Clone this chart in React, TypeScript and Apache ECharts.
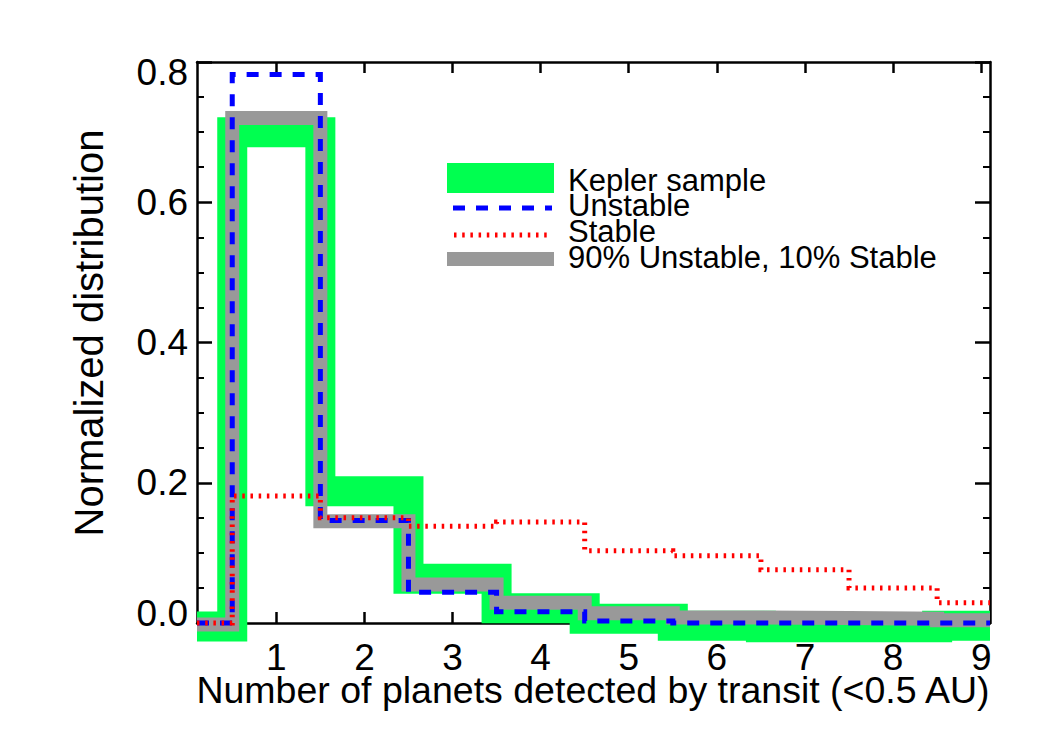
import React, { useEffect, useRef } from "react";
import * as echarts from "echarts";

// Bin layout: one bin per planet count, plotted over [X_MIN, X_MAX]
const X_MIN = 0.1;
const X_MAX = 9.1;
const planetCounts = [0, 1, 2, 3, 4, 5, 6, 7, 8, 9];
const xTicks = [1, 2, 3, 4, 5, 6, 7, 8, 9];
const yTicks = [0, 0.2, 0.4, 0.6, 0.8];

// Normalized distributions per planet count
const keplerSample = [-0.005, 0.7, 0.188, 0.063, 0.021, 0.006, -0.004, -0.006, -0.006, -0.004];
const unstable = [0.0, 0.782, 0.146, 0.044, 0.016, 0.003, 0.0, 0.0, 0.0, 0.0];
const stable = [0.0, 0.181, 0.15, 0.138, 0.144, 0.103, 0.096, 0.076, 0.05, 0.029];
const mixed = [-0.002, 0.72, 0.145, 0.055, 0.029, 0.014, 0.008, 0.007, 0.006, 0.004];

const legendLabels = ["Kepler sample", "Unstable", "Stable", "90% Unstable, 10% Stable"];

const FONT = "'Liberation Sans', Arial, Helvetica, sans-serif";
const GREEN = "#00ff50";
const GRAY = "#999999";
const BLUE = "#0000ff";
const RED = "#ff0000";

// Turn per-bin values into a histogram outline (flat top per bin, vertical steps at bin edges)
function stepOutline(values: number[]): number[][] {
  const pts: number[][] = [];
  values.forEach((v, i) => {
    const left = i === 0 ? X_MIN : planetCounts[i] - 0.5;
    const right = i === values.length - 1 ? X_MAX : planetCounts[i] + 0.5;
    pts.push([left, v], [right, v]);
  });
  return pts;
}

const axisLineStyle = { color: "#000", width: 2.5 };

export default function App() {
  const ref = useRef<HTMLDivElement>(null);

  useEffect(() => {
    if (!ref.current) return;
    const chart = echarts.init(ref.current, null, { renderer: "svg" });

    const xAxisCommon = {
      type: "value" as const,
      min: X_MIN,
      max: X_MAX,
      splitLine: { show: false },
      axisLine: { show: true, onZero: false, lineStyle: axisLineStyle },
      axisTick: { show: true, inside: true, length: 11, lineStyle: axisLineStyle, customValues: xTicks },
    };
    const yAxisCommon = {
      type: "value" as const,
      min: 0,
      max: 0.8,
      interval: 0.2,
      splitLine: { show: false },
      minorSplitLine: { show: false },
      axisLine: { show: true, onZero: false, lineStyle: axisLineStyle },
      axisTick: { show: true, inside: true, length: 15, lineStyle: axisLineStyle },
      minorTick: { show: true, splitNumber: 4, length: 7, lineStyle: { color: "#000", width: 2 } },
    };

    const tickFont = { fontSize: 37, fontFamily: FONT, color: "#000" };

    chart.setOption({
      animation: false,
      backgroundColor: "#fff",
      grid: { left: 197, right: 60, top: 62, bottom: 127, containLabel: false },
      xAxis: [
        {
          ...xAxisCommon,
          position: "bottom",
          axisLabel: { ...tickFont, margin: 16, customValues: xTicks, formatter: (v: number) => String(v) },
        },
        { ...xAxisCommon, position: "top", axisLabel: { show: false } },
      ],
      yAxis: [
        {
          ...yAxisCommon,
          position: "left",
          axisLabel: {
            ...tickFont,
            margin: 9,
            customValues: yTicks,
            formatter: (v: number) => {
              const s = v.toFixed(1);
              if (v > 0.79) return `{hi|${s}}`;
              if (v < 0.01) return `{lo|${s}}`;
              return s;
            },
            rich: {
              hi: { ...tickFont, padding: [20, 0, 0, 0] },
              lo: { ...tickFont, padding: [0, 0, 20, 0] },
            },
          },
        },
        { ...yAxisCommon, position: "right", axisLabel: { show: false } },
      ],
      series: [
        {
          name: legendLabels[0],
          type: "line",
          data: stepOutline(keplerSample),
          symbol: "none",
          clip: false,
          z: 2,
          lineStyle: { color: GREEN, width: 30, cap: "butt", join: "miter" },
        },
        {
          name: legendLabels[3],
          type: "line",
          data: stepOutline(mixed),
          symbol: "none",
          clip: false,
          z: 3,
          lineStyle: { color: GRAY, width: 14, cap: "butt", join: "miter" },
        },
        {
          name: legendLabels[1],
          type: "line",
          data: stepOutline(unstable),
          symbol: "none",
          clip: false,
          z: 4,
          lineStyle: { color: BLUE, width: 5, type: [12, 11], cap: "butt", join: "miter" },
        },
        {
          name: legendLabels[2],
          type: "line",
          data: stepOutline(stable),
          symbol: "none",
          clip: false,
          z: 5,
          lineStyle: { color: RED, width: 5, type: [2.5, 5.7], cap: "butt", join: "miter" },
        },
      ],
      graphic: [
        // axis titles
        {
          type: "text",
          x: 593,
          y: 690,
          style: {
            text: "Number of planets detected by transit (<0.5 AU)",
            fontSize: 37.5,
            fontFamily: FONT,
            fill: "#000",
            align: "center",
            verticalAlign: "middle",
            textAlign: "center",
            textVerticalAlign: "middle",
          },
        },
        {
          type: "text",
          x: 89,
          y: 333,
          rotation: Math.PI / 2,
          style: {
            text: "Normalized distribution",
            fontSize: 40,
            fontFamily: FONT,
            fill: "#000",
            align: "center",
            verticalAlign: "middle",
            textAlign: "center",
            textVerticalAlign: "middle",
          },
        },
        // legend swatches
        { type: "rect", shape: { x: 447, y: 163, width: 107, height: 30 }, style: { fill: GREEN } },
        {
          type: "line",
          shape: { x1: 453, y1: 208, x2: 552, y2: 208 },
          style: { stroke: BLUE, lineWidth: 5, lineDash: [12, 11] },
        },
        {
          type: "line",
          shape: { x1: 454, y1: 235, x2: 549, y2: 235 },
          style: { stroke: RED, lineWidth: 5, lineDash: [2.5, 5.7] },
        },
        { type: "rect", shape: { x: 447, y: 252, width: 107, height: 14 }, style: { fill: GRAY } },
        // legend labels
        ...legendLabels.map((label, i) => ({
          type: "text",
          x: 568,
          y: [196, 221, 247, 273][i],
          style: {
            text: label,
            fontSize: 31,
            fontFamily: FONT,
            fill: "#000",
            align: "left",
            verticalAlign: "bottom",
            textAlign: "left",
            textVerticalAlign: "bottom",
          },
        })),
      ],
    });

    return () => chart.dispose();
  }, []);

  return (
    <div
      ref={ref}
      style={{ position: "fixed", left: 0, top: 0, width: 1050, height: 750, background: "#fff" }}
    />
  );
}
